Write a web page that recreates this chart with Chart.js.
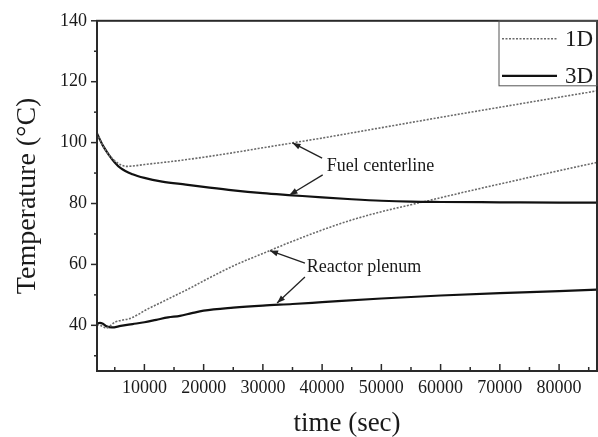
<!DOCTYPE html>
<html>
<head>
<meta charset="utf-8">
<script src="https://cdn.jsdelivr.net/npm/chart.js@4.4.1/dist/chart.umd.min.js"></script>
<style>
  html,body{margin:0;padding:0;background:#fff;}
  #wrap{width:598px;height:437px;}
</style>
</head>
<body>
<div id="wrap"><canvas id="chart" width="598" height="437"></canvas></div>
<script>
// fuel centerline, 1D (dotted) and 3D (solid)
const fuel1dTime=[2000,3000,4000,5000,6000,7000,8000,10000,15000,20000,25000,30000,35000,40000,50000,60000,70000,80000,86400];
const fuel1dTemp=[103,99,96,94,92.7,92.2,92.3,92.8,93.9,95.2,96.7,98.3,99.9,101.5,104.9,108.3,111.6,114.9,117];
const fuel3dTime=[2000,3000,4000,5000,6000,8000,10000,13000,17000,21000,25000,30000,35000,40000,45000,50000,55000,60000,70000,80000,86400];
const fuel3dTemp=[103,99,96,93.5,91.6,89.6,88.4,87.2,86.2,85.2,84.3,83.4,82.7,82,81.4,80.9,80.6,80.5,80.4,80.3,80.3];

// reactor plenum
const plen1dTime=[2000,3000,3500,4000,5000,6000,7500,9000,10000,12500,15000,17500,20000,25000,30000,35000,40000,45000,50000,55000,60000,65000,70000,75000,80000,86400];
const plen1dTemp=[40.3,39.6,39.1,39.5,41,41.6,42.2,43.6,44.8,47.2,49.6,52,54.6,59.5,63.6,67.6,71.3,74.6,77.3,79.6,81.9,84.2,86.4,88.6,90.8,93.5];
const plen3dTime=[2000,2500,3000,3500,4500,6000,8000,10000,12000,14000,16000,18000,20000,25000,30000,35000,40000,50000,60000,70000,80000,86400];
const plen3dTemp=[40.6,40.8,40.5,39.8,39.3,39.8,40.4,41,41.8,42.6,43.1,44,44.8,45.8,46.5,47,47.6,48.8,49.8,50.6,51.2,51.7];

const legendLabels=["1D","3D"];
const xTickValues=[5000,10000,15000,20000,25000,30000,35000,40000,45000,50000,55000,60000,65000,70000,75000,80000,85000];
const yTickValues=[30,40,50,60,70,80,90,100,110,120,130,140];

// annotation text and arrow targets (data coords)
const notes=[
  {text:"Fuel centerline", at:[40800,92.3], arrows:[[[40000,94.9],[35000,99.9]],[[40100,89.4],[34500,82.8]]]},
  {text:"Reactor plenum", at:[37400,59.2], arrows:[[[37100,60.4],[31200,64.5]],[[37100,55.9],[32400,47.3]]]}
];

const pts=(t,v)=>t.map((x,i)=>({x:x,y:v[i]}));
const style1d={borderColor:"#6a6a6a",borderWidth:1.6,borderDash:[2,1.5],pointRadius:0,fill:false,cubicInterpolationMode:"monotone"};
const style3d={borderColor:"#111",borderWidth:2.2,pointRadius:0,fill:false,cubicInterpolationMode:"monotone"};

const serif='"Liberation Serif","Times New Roman",serif';

function arrow(ctx,x1,y1,x2,y2){
  ctx.beginPath(); ctx.moveTo(x1,y1); ctx.lineTo(x2,y2); ctx.stroke();
  const a=Math.atan2(y2-y1,x2-x1), L=8, W=3;
  ctx.beginPath();
  ctx.moveTo(x2,y2);
  ctx.lineTo(x2-L*Math.cos(a)+W*Math.sin(a), y2-L*Math.sin(a)-W*Math.cos(a));
  ctx.lineTo(x2-L*Math.cos(a)-W*Math.sin(a), y2-L*Math.sin(a)+W*Math.cos(a));
  ctx.closePath(); ctx.fill();
}

const decor={
  id:"decor",
  afterDraw(chart){
    const {ctx,chartArea:a,scales:{x,y}}=chart;
    ctx.save();
    ctx.strokeStyle="#2a2a2a"; ctx.fillStyle="#2a2a2a";
    ctx.lineWidth=2;
    ctx.strokeRect(a.left,a.top,a.right-a.left,a.bottom-a.top);
    ctx.lineWidth=1.5;
    x.ticks.forEach(t=>{
      const px=x.getPixelForValue(t.value), len=t.value%10000===0?7:4;
      ctx.beginPath(); ctx.moveTo(px,a.bottom); ctx.lineTo(px,a.bottom-len); ctx.stroke();
    });
    y.ticks.forEach(t=>{
      const py=y.getPixelForValue(t.value), len=t.value%20===0?6:3;
      ctx.beginPath(); ctx.moveTo(a.left,py); ctx.lineTo(a.left-len,py); ctx.stroke();
    });

    // legend box
    const lw=98, lh=65, lx=a.right-lw, ly=a.top;
    ctx.lineWidth=1; ctx.strokeStyle="#555";
    ctx.strokeRect(lx,ly,lw,lh);
    const sets=[style1d,style3d];
    ctx.font="23px "+serif; ctx.textBaseline="middle"; ctx.fillStyle="#1a1a1a";
    legendLabels.forEach((lab,i)=>{
      const yy=ly+18+i*37;
      ctx.strokeStyle=sets[i].borderColor; ctx.lineWidth=sets[i].borderWidth;
      ctx.setLineDash(sets[i].borderDash||[]);
      ctx.beginPath(); ctx.moveTo(lx+3,yy); ctx.lineTo(lx+58,yy); ctx.stroke();
      ctx.setLineDash([]);
      ctx.fillText(lab,lx+66,yy+1);
    });

    // annotations
    ctx.font="18px "+serif; ctx.fillStyle="#1a1a1a"; ctx.textBaseline="middle";
    notes.forEach(n=>{
      ctx.fillText(n.text,x.getPixelForValue(n.at[0]),y.getPixelForValue(n.at[1]));
      ctx.strokeStyle="#222"; ctx.fillStyle="#222"; ctx.lineWidth=1.3;
      n.arrows.forEach(([from,to])=>{
        arrow(ctx,x.getPixelForValue(from[0]),y.getPixelForValue(from[1]),x.getPixelForValue(to[0]),y.getPixelForValue(to[1]));
      });
      ctx.fillStyle="#1a1a1a";
    });
    ctx.restore();
  }
};

new Chart(document.getElementById("chart"),{
  type:"line",
  data:{datasets:[
    Object.assign({label:"1D",data:pts(fuel1dTime,fuel1dTemp)},style1d),
    Object.assign({label:"3D",data:pts(fuel3dTime,fuel3dTemp)},style3d),
    Object.assign({label:"1D",data:pts(plen1dTime,plen1dTemp)},style1d),
    Object.assign({label:"3D",data:pts(plen3dTime,plen3dTemp)},style3d)
  ]},
  options:{
    responsive:false,
    animation:false,
    layout:{padding:{top:16,right:1,left:0,bottom:0}},
    plugins:{legend:{display:false},tooltip:{enabled:false}},
    scales:{
      x:{
        type:"linear",min:2000,max:86400,
        afterBuildTicks:s=>{s.ticks=xTickValues.map(v=>({value:v}));},
        afterFit:s=>{s.height=66;},
        grid:{display:false,drawTicks:false},
        border:{display:false},
        ticks:{autoSkip:false,maxRotation:0,padding:6,color:"#1a1a1a",font:{family:serif,size:18},
          callback:v=>v%10000===0?String(v):""},
        title:{display:true,text:"time (sec)",color:"#1a1a1a",font:{family:serif,size:27,lineHeight:1},padding:{top:0,bottom:0}}
      },
      y:{
        min:25,max:140,
        afterBuildTicks:s=>{s.ticks=yTickValues.map(v=>({value:v}));},
        afterFit:s=>{s.width=97;},
        grid:{display:false,drawTicks:false},
        border:{display:false},
        ticks:{autoSkip:false,padding:10,color:"#1a1a1a",font:{family:serif,size:18},
          callback:v=>v%20===0?String(v):""},
        title:{display:true,text:"Temperature (°C)",color:"#1a1a1a",font:{family:serif,size:28},padding:{top:11,bottom:0}}
      }
    }
  },
  plugins:[decor]
});
</script>
</body>
</html>
